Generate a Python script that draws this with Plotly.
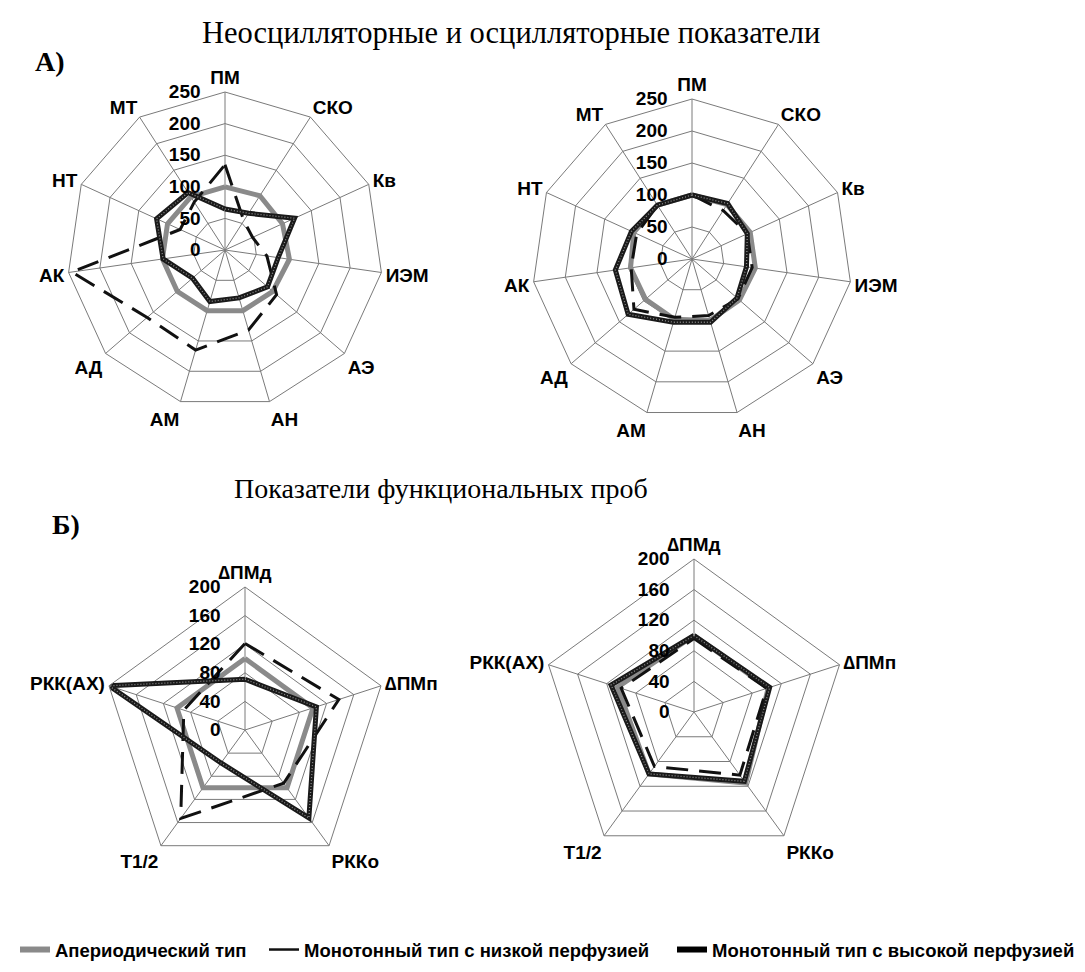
import plotly.graph_objects as go

# ---------------- data ----------------
cats_a = ["ПМ", "СКО", "Кв", "ИЭМ", "АЭ", "АН", "АМ", "АД", "АК", "НТ", "МТ"]
cats_b = ["∆ПМд", "∆ПМп", "РККо", "Т1/2", "РКК(АХ)"]

series_names = ["Апериодический тип",
                "Монотонный тип с низкой перфузией",
                "Монотонный тип с высокой перфузией"]

# Panel A, left
a1_aper = [100, 102, 100, 103, 100, 100, 100, 100, 100, 100, 100]
a1_low = [135, 55, 48, 67, 108, 132, 165, 163, 245, 78, 90]
a1_high = [65, 69, 121, 85, 89, 79, 85, 68, 99, 119, 108]

# Panel A, right
a2_aper = [100, 101, 100, 100, 98, 100, 98, 96, 97, 100, 100]
a2_low = [100, 90, 95, 95, 95, 92, 95, 120, 96, 95, 100]
a2_high = [100, 103, 95, 86, 93, 103, 103, 132, 121, 104, 100]

# Panel Б, left
b1_aper = [100, 100, 100, 100, 100]
b1_low = [121, 138, 92, 153, 90]
b1_high = [71, 105, 152, 57, 200]

# Panel Б, right
b2_aper = [100, 102, 115, 100, 105]
b2_low = [96, 100, 102, 88, 100]
b2_high = [100, 104, 112, 100, 114]

range_a = [0, 250]
range_b = [0, 200]
dtick_a = 50
dtick_b = 40

# ---------------- styles ----------------
GRAY = "#8a8a8a"
GRID = "#7a7a7a"
styles = [
    dict(color=GRAY, width=5),
    dict(color="#111111", width=3, dash="22px,11px"),
    dict(color="#1a1a1a", width=5),
]
texture = dict(color="#8c8c8c", width=1.3, dash="1px,2px")
sans = "Liberation Sans, Arial, sans-serif"
serif = "Liberation Serif, Times New Roman, serif"

fig = go.Figure()


def closed(cats, vals):
    return list(cats) + [cats[0]], list(vals) + [vals[0]]


panels = [
    ("polar", cats_a, [a1_aper, a1_low, a1_high]),
    ("polar2", cats_a, [a2_aper, a2_low, a2_high]),
    ("polar3", cats_b, [b1_aper, b1_low, b1_high]),
    ("polar4", cats_b, [b2_aper, b2_low, b2_high]),
]

for sub, cats, sers in panels:
    for i, vals in enumerate(sers):
        th, rr = closed(cats, vals)
        fig.add_trace(go.Scatterpolar(
            r=rr, theta=th, mode="lines", subplot=sub,
            line=styles[i], showlegend=False, name=series_names[i],
            hoverinfo="skip"))
        if i == 2:
            # speckled texture of the thick line
            fig.add_trace(go.Scatterpolar(
                r=rr, theta=th, mode="lines", subplot=sub,
                line=texture, showlegend=False, name=series_names[i],
                hoverinfo="skip"))

# legend entries (solid samples as in the reference legend), one legend each
legend_styles = [
    dict(color=GRAY, width=6),
    dict(color="#111111", width=2.5),
    dict(color="#000000", width=6),
]
legend_ids = ["legend", "legend2", "legend3"]
for i, nm in enumerate(series_names):
    fig.add_trace(go.Scatterpolar(
        r=[None], theta=[cats_a[0]], mode="lines", subplot="polar",
        line=legend_styles[i], name=nm, showlegend=True, hoverinfo="skip",
        legend=legend_ids[i]))

TICKFONT = dict(family=sans, size=19, color="black", weight="bold")
NBSP4 = "\u00a0\u00a0\u00a0\u00a0"


def polar_layout(domx, domy, rng, dt):
    return dict(
        domain=dict(x=domx, y=domy),
        gridshape="linear",
        bgcolor="white",
        angularaxis=dict(
            rotation=90, direction="clockwise",
            showline=True, linecolor=GRID, linewidth=1,
            gridcolor=GRID, gridwidth=1,
            ticks="", tickfont=TICKFONT,
        ),
        radialaxis=dict(
            range=rng, dtick=dt, tick0=0, angle=90, tickangle=90,
            showline=False, gridcolor=GRID, gridwidth=1,
            ticks="", side="counterclockwise", ticksuffix=NBSP4,
            tickfont=TICKFONT,
        ),
    )


W, H = 1085, 972


def dom(cx, cy, r):
    return [(cx - r) / W, (cx + r) / W], [1 - (cy + r) / H, 1 - (cy - r) / H]


d1 = dom(225, 250, 158)
d2 = dom(692, 259, 160)
d3 = dom(245, 730, 143)
d4 = dom(694, 712, 153)


def legend_box(x_px):
    return dict(
        orientation="h", x=x_px / W, xanchor="left", y=1 - 950 / H, yanchor="middle",
        font=dict(family=sans, size=18.5, color="black", weight="bold"),
        itemwidth=30, bgcolor="rgba(0,0,0,0)",
    )


fig.update_layout(
    width=W, height=H,
    margin=dict(l=0, r=0, t=0, b=0),
    paper_bgcolor="white",
    polar=polar_layout(*d1, range_a, dtick_a),
    polar2=polar_layout(*d2, range_a, dtick_a),
    polar3=polar_layout(*d3, range_b, dtick_b),
    polar4=polar_layout(*d4, range_b, dtick_b),
    showlegend=True,
    legend=legend_box(15),
    legend2=legend_box(264),
    legend3=legend_box(672),
    annotations=[
        dict(text="Неосцилляторные и осцилляторные показатели", x=511 / W, y=1 - 33 / H,
             xref="paper", yref="paper", showarrow=False, xanchor="center", yanchor="middle",
             font=dict(family=serif, size=30.5, color="black")),
        dict(text="<b>А)</b>", x=33 / W, y=1 - 62 / H, xref="paper", yref="paper",
             showarrow=False, xanchor="left", yanchor="middle",
             font=dict(family=serif, size=28, color="black")),
        dict(text="Показатели функциональных проб", x=441 / W, y=1 - 488 / H,
             xref="paper", yref="paper", showarrow=False, xanchor="center", yanchor="middle",
             font=dict(family=serif, size=28, color="black")),
        dict(text="<b>Б)</b>", x=50 / W, y=1 - 524 / H, xref="paper", yref="paper",
             showarrow=False, xanchor="left", yanchor="middle",
             font=dict(family=serif, size=28, color="black")),
    ],
)

fig.write_html("out.html", config={"displayModeBar": False},
               post_script="document.body.style.margin='0';document.body.style.padding='0';")
